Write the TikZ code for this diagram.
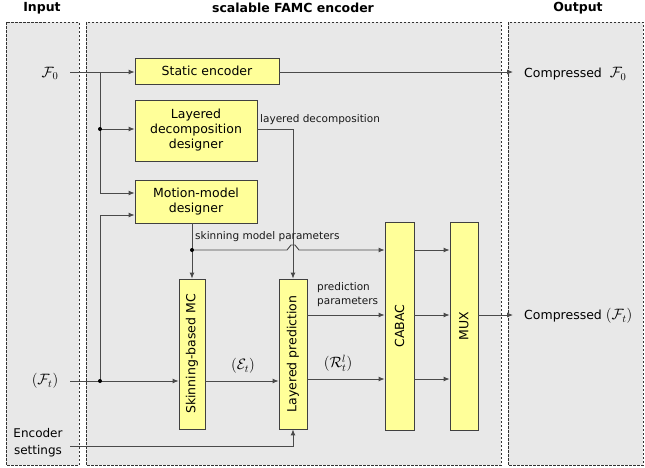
\RequirePackage{fix-cm}
\documentclass[tikz,border=0pt]{standalone}
\usepackage{fontspec}
\setmainfont{DejaVu Sans}
\usetikzlibrary{arrows.meta}
\definecolor{panelfill}{HTML}{E8E8E8}
\definecolor{boxfill}{HTML}{FFFF99}
\definecolor{linecol}{HTML}{4A4A4A}
\begin{document}
\begin{tikzpicture}[x=1pt,y=-1pt,
  panel/.style={draw=black!80, fill=panelfill, dash pattern=on 2.5pt off 1.5pt, line width=0.7pt},
  blk/.style={draw=black!75, fill=boxfill, line width=0.8pt, inner sep=0pt, font=\fontsize{12.5}{15}\selectfont, align=center},
  conn/.style={draw=linecol, line width=0.9pt},
  arr/.style={conn, -{Latex[length=6pt,width=5pt]}},
  dotc/.style={circle, fill=black, inner sep=0pt, minimum size=4pt},
  lbl/.style={font=\fontsize{12.5}{15}\selectfont, inner sep=0pt},
  mth/.style={font=\fontsize{15}{17}\selectfont, inner sep=0pt},
  small/.style={font=\fontsize{10.5}{14}\selectfont, inner sep=0pt, text=black!90},
  ttl/.style={font=\fontsize{12.5}{15}\selectfont\bfseries, inner sep=0pt}
]
\useasboundingbox (0,0) rectangle (645,467);
\fill[white] (0,0) rectangle (645,467);
% panels
\path[panel] (6,22) rectangle (79,465);
\path[panel] (86,22) rectangle (501,465);
\path[panel] (508,22) rectangle (643,465);
% titles
\node[ttl] (tin) at (42,8) {Input};
\node[ttl] (tenc) at (293,8) {scalable FAMC encoder};
\node[ttl] (tout) at (578,8) {Output};
% blocks
\node[blk, minimum width=144pt, minimum height=26pt] (static) at (207,71) {Static encoder};
\node[blk, minimum width=122pt, minimum height=61pt] (decomp) at (196,130.5) {Layered\\decomposition\\designer};
\node[blk, minimum width=122pt, minimum height=43pt] (motion) at (196,201.5) {Motion-model\\designer};
\node[blk, minimum width=26pt, minimum height=150pt] (skin) at (192,354) {};
\node[lbl, rotate=90] (skintxt) at (skin.center) {Skinning-based MC};
\node[blk, minimum width=28pt, minimum height=150pt] (lpred) at (293,354) {};
\node[lbl, rotate=90] (lpredtxt) at (lpred.center) {Layered prediction};
\node[blk, minimum width=29pt, minimum height=208pt] (cabac) at (399.5,326) {};
\node[lbl, rotate=90] (cabactxt) at (cabac.center) {CABAC};
\node[blk, minimum width=28pt, minimum height=208pt] (mux) at (464,326) {};
\node[lbl, rotate=90] (muxtxt) at (mux.center) {MUX};
% inputs
\node[mth] (f0) at (50,73) {$\mathcal{F}_0$};
\node[mth] (ft) at (45,381) {$(\mathcal{F}_t)$};
\node[lbl, align=center, font=\fontsize{12}{17}\selectfont] (es) at (38,443) {Encoder\\settings};
\coordinate (f0s) at (70,72);
\coordinate (fts) at (70,381);
\coordinate (ess) at (70,446);
\coordinate (j1) at (100,72);
\coordinate (j2) at (100,129);
\coordinate (j3) at (100,381);
\coordinate (j4) at (192,250);
% outputs
\coordinate (o1) at (513,72);
\coordinate (o2) at (513,315);
\node[lbl, anchor=west] (c0) at (524,74) {Compressed\ \ {\fontsize{15}{17}\selectfont$\mathcal{F}_0$}};
\node[lbl, anchor=west] (ct) at (524,316) {Compressed {\fontsize{15}{17}\selectfont$(\mathcal{F}_t)$}};
% F0 connectors
\draw[arr] (f0s) -- (static.west |- f0s);
\draw[conn] (j1) -- (100,193);
\draw[arr] (100,193) -- (motion.west |- 0,193);
\draw[arr] (j2) -- (decomp.west |- j2);
\node[dotc] (d1) at (j2) {};
% Ft connectors
\draw[arr] (fts) -- (skin.west |- fts);
\draw[arr] (j3) -- (100,215) -- (motion.west |- 0,215);
\node[dotc] (d2) at (j3) {};
% layered decomposition
\draw[arr] (decomp.east |- j2) -- (293,129) -- (lpred.north);
\node[small, anchor=west] (ldl) at (260,120) {layered decomposition};
% motion model
\draw[arr] (motion.south -| j4) -- (skin.north);
\draw[arr] (j4) -- (287,250) -- (291,245) -- (295,245) -- (299,250) -- (cabac.west |- j4);
\node[dotc] (d3) at (j4) {};
\node[small, anchor=west] (sml) at (195,237) {skinning model parameters};
% Et
\draw[arr] (skin.east |- fts) -- (lpred.west |- fts);
\node[mth] (et) at (243,366) {$(\mathcal{E}_t)$};
% encoder settings
\draw[arr] (ess) -- (lpred.south |- ess) -- (lpred.south);
% layered prediction outputs
\draw[arr] (lpred.east |- 0,315) -- (cabac.west |- 0,315);
\draw[arr] (lpred.east |- 0,379) -- (cabac.west |- 0,379);
\node[small, anchor=west, align=left] (ppl) at (317,295) {prediction\\parameters};
\node[mth] (rl) at (338,363) {$(\mathcal{R}_t^l)$};
% cabac to mux
\draw[arr] (cabac.east |- j4) -- (mux.west |- j4);
\draw[arr] (cabac.east |- 0,315) -- (mux.west |- 0,315);
\draw[arr] (cabac.east |- 0,379) -- (mux.west |- 0,379);
% outputs
\draw[arr] (mux.east |- o2) -- (o2);
\draw[arr] (static.east |- o1) -- (o1);
\end{tikzpicture}
\end{document}
